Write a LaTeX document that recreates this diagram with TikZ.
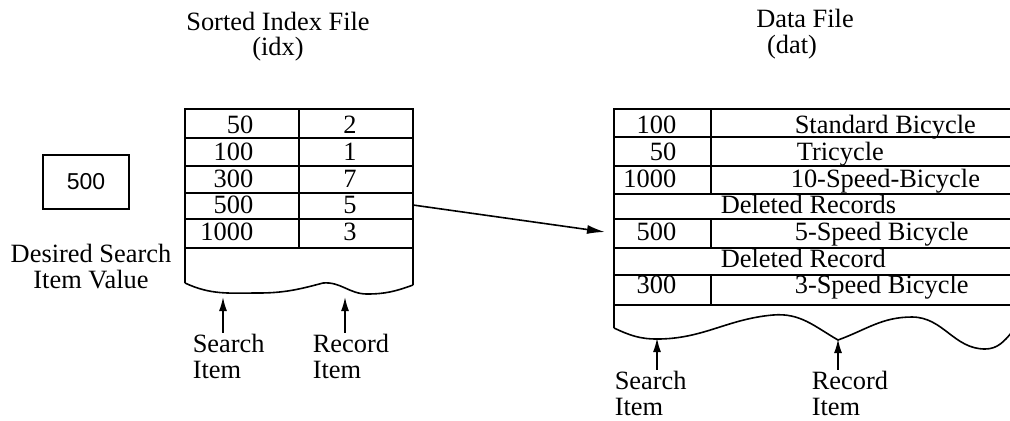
\documentclass[tikz,border=0pt]{standalone}
\usepackage{fontspec}
\setmainfont{Liberation Serif}
\setsansfont{Liberation Sans}
\usetikzlibrary{positioning, arrows.meta}

\begin{document}
\begin{tikzpicture}[
        x=0.5pt, y=-0.5pt,
        line width=0.8pt,
        font=\fontsize{13.2pt}{13pt}\selectfont,
        txt/.style={inner sep=0pt, anchor=base},
        num/.style={inner sep=0pt, anchor=base east},
        itm/.style={inner sep=0pt, anchor=base west},
        note/.style={inner sep=0pt, align=left, anchor=base west},
        ptr/.style={-{Latex[length=7pt, width=4pt]}},
    ]
    \useasboundingbox (0,0) rectangle (1010,420);

    \node[txt, align=center] (idxtitle) at (278,55) {Sorted Index File\\[-0.5pt](idx)};
    \node[txt, align=center] (dattitle) at (805,53) {Data File\\(dat)\hspace*{13pt}};

    \node[draw, minimum width=43pt, minimum height=27pt, inner sep=0pt,
        font=\sffamily\fontsize{11.5pt}{13pt}\selectfont] (key) at (86,182) {500};
    \node[below=17pt of key, xshift=2.5pt, align=center, inner sep=0pt] (keylbl) {Desired Search\\Item Value};

    % index file
    \draw (185,283) -- (185,109) -- (413,109) -- (413,285);
    \foreach \y in {138,166,193,219,248}
        \draw (185,\y) -- (413,\y);
    \draw (299,109) -- (299,248);
    \draw (185,283) to[out=-25,in=180] (258,293) to[out=0,in=195] (323,283)
        to[out=5,in=180] (367,294) to[out=0,in=200] (413,285);
    \foreach \k/\r/\y in {50/2/133, 100/1/160, 300/7/187, 500/5/213, 1000/3/240} {
        \node[num] (ik\k) at (254,\y) {\k};
        \node[txt] (ir\k) at (350,\y) {\r};
    }

    % data file
    \draw (614,328) -- (614,109) -- (1012,109);
    \foreach \y in {137,166,194,219,248,275,305}
        \draw (614,\y) -- (1012,\y);
    \foreach \a/\b in {109/194, 219/248, 275/305}
        \draw (711,\a) -- (711,\b);
    \draw (614,328) to[out=-25,in=180] (657,339) to[out=0,in=185] (773,315)
        to[out=5,in=150] (838,340) to[out=20,in=180] (912,317)
        to[out=0,in=180] (985,349) to[out=0,in=230] (1012,332);
    \foreach \k/\v/\x/\y in {100/Standard Bicycle/794/133, 50/Tricycle/796/160,
            1000/10-Speed-Bicycle/790/187, 500/5-Speed Bicycle/794/240, 300/3-Speed Bicycle/794/293} {
        \node[num] (dk\k) at (677,\y) {\k};
        \node[itm] (dv\k) at (\x,\y) {\v};
    }
    \node[itm] (del1) at (720,213) {Deleted Records};
    \node[itm] (del2) at (720,267) {Deleted Record};

    \coordinate (from500) at (413,205);
    \coordinate (to500) at (605,232);
    \draw[-{Latex[length=9pt, width=4.5pt]}] (from500) -- (to500);

    \node[note] (isrch) at (192,378) {Search\\Item};
    \node[note] (irec) at (312,378) {Record\\Item};
    \coordinate (iw1) at (223,297);
    \coordinate (iw2) at (345,297);
    \draw[ptr] (isrch.north -| iw1) -- (iw1);
    \draw[ptr] (irec.north -| iw2) -- (iw2);

    \node[note] (dsrch) at (614,415) {Search\\Item};
    \node[note] (drec) at (811,415) {Record\\Item};
    \coordinate (dw1) at (657,338);
    \coordinate (dw2) at (838,339);
    \draw[ptr] (dsrch.north -| dw1) -- (dw1);
    \draw[ptr] (drec.north -| dw2) -- (dw2);
\end{tikzpicture}
\end{document}
